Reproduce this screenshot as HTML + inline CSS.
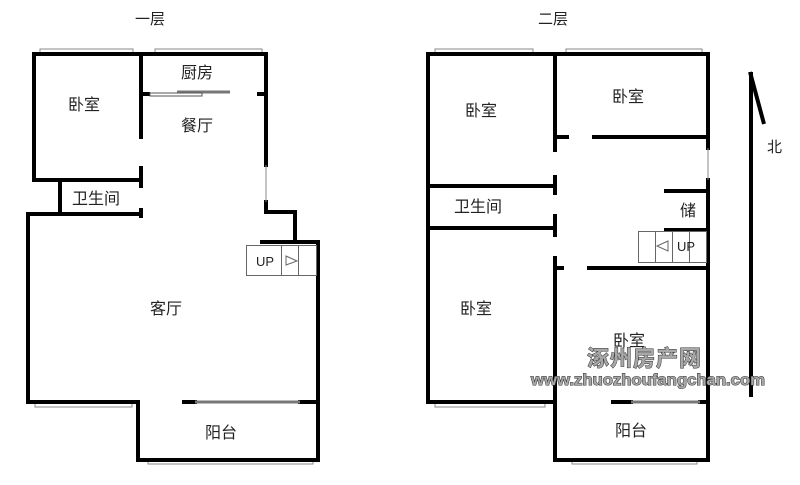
<!DOCTYPE html>
<html><head><meta charset="utf-8"><style>
html,body{margin:0;padding:0;background:#fff;width:800px;height:485px;overflow:hidden}
svg{display:block}
text{font-family:"Liberation Sans","Noto Sans CJK SC",sans-serif;fill:#222}
</style></head><body>
<svg width="800" height="485" viewBox="0 0 800 485" xmlns="http://www.w3.org/2000/svg">
<rect width="800" height="485" fill="#fff"/>
<g font-size="15">
<text x="135" y="24">一层</text>
<text x="538" y="24">二层</text>
</g>
<g fill="#fff" stroke="#888" stroke-width="1">
<rect x="40" y="49" width="93" height="5"/>
<rect x="155" y="49" width="107" height="5"/>
<rect x="35" y="402" width="97" height="5"/>
<rect x="148" y="459" width="165" height="5"/>
<rect x="435" y="49" width="98" height="5"/>
<rect x="566" y="49" width="136" height="5"/>
<rect x="435" y="402" width="110" height="5"/>
<rect x="572" y="459" width="125" height="5"/>
</g>
<g stroke="#000" stroke-width="4" fill="none" stroke-linecap="square">
<path d="M34 54 V180 H141"/>
<path d="M34 54 H133"/><path d="M133 54 H266 V165"/>
<path d="M141 54 V137"/><path d="M141 168 V186"/>
<path d="M60 180 V214"/>
<path d="M28 214 H141"/><path d="M141 210 V216"/>
<path d="M28 214 V402 H138 V460 H318 V242 H262"/>
<path d="M266 202 V212 H295 V242"/>
<path d="M184 402 H195"/><path d="M300 402 H318"/>
<path d="M143 94 H148"/><path d="M259 94 H266"/>
</g>
<g stroke="#777" stroke-width="3"><line x1="195" y1="402" x2="300" y2="402"/><line x1="177" y1="92" x2="230" y2="92"/></g>
<rect x="150" y="93" width="52" height="3" fill="#fff" stroke="#555" stroke-width="1"/>
<line x1="266" y1="165" x2="266" y2="202" stroke="#888" stroke-width="1"/>
<g stroke="#666" stroke-width="1" fill="none">
<rect x="246.5" y="245.5" width="70" height="30"/>
<line x1="281.5" y1="245" x2="281.5" y2="276"/>
<line x1="298.5" y1="245" x2="298.5" y2="276"/>
<path d="M286 256 L297 261 L286 265 Z"/>
</g>
<text x="256" y="266" font-size="13">UP</text>
<g stroke="#000" stroke-width="4" fill="none" stroke-linecap="square">
<path d="M428 54 H708 V148"/>
<path d="M428 54 V402 H555"/>
<path d="M555 54 V150"/><path d="M555 137 H567"/>
<path d="M594 137 H708"/>
<path d="M708 180 V460 H555 V268"/>
<path d="M428 186 H555"/><path d="M555 177 V193"/>
<path d="M428 228 H555"/><path d="M555 216 V235"/>
<path d="M555 258 V268 H562"/>
<path d="M589 268 H708"/>
<path d="M666 191 H708"/>
<path d="M613 402 H631"/><path d="M700 402 H708"/>
<path d="M666 230 H708"/>
</g>
<g stroke="#777" stroke-width="3"><line x1="631" y1="402" x2="700" y2="402"/></g>
<line x1="708" y1="148" x2="708" y2="180" stroke="#888" stroke-width="1"/>
<g stroke="#666" stroke-width="1" fill="none">
<rect x="638.5" y="231.5" width="68" height="31"/>
<line x1="655.5" y1="231" x2="655.5" y2="263"/>
<line x1="672.5" y1="231" x2="672.5" y2="263"/>
<line x1="689.5" y1="231" x2="689.5" y2="263"/>
<path d="M668 241 L657 246 L668 251 Z"/>
</g>
<text x="677" y="251" font-size="13">UP</text>
<line x1="751" y1="72" x2="751" y2="397" stroke="#000" stroke-width="4"/>
<line x1="750" y1="72" x2="764" y2="124" stroke="#000" stroke-width="4"/>
<text x="767" y="152" font-size="15">北</text>
<g font-size="16">
<text x="68" y="110">卧室</text>
<text x="181" y="78">厨房</text>
<text x="181" y="131">餐厅</text>
<text x="72" y="204">卫生间</text>
<text x="150" y="314">客厅</text>
<text x="205" y="438">阳台</text>
<text x="465" y="116">卧室</text>
<text x="612" y="102">卧室</text>
<text x="454" y="212">卫生间</text>
<text x="680" y="216">储</text>
<text x="460" y="314">卧室</text>
<text x="613" y="346">卧室</text>
<text x="615" y="436">阳台</text>
</g>
<g font-weight="bold" stroke="#333" stroke-width="1" paint-order="stroke">
<text x="587" y="366" font-size="22" style="fill:#a8a8a8;letter-spacing:1px">涿州房产网</text>
<text x="531" y="385" font-size="15.5" style="fill:#a8a8a8" textLength="234" lengthAdjust="spacingAndGlyphs">www.zhuozhoufangchan.com</text>
</g>
</svg>
</body></html>
